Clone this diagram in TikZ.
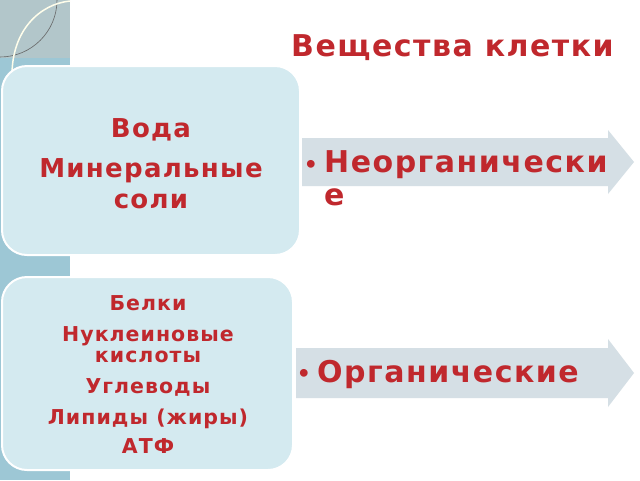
\documentclass[tikz,border=0pt]{standalone}
\usepackage{fontspec}
\setmainfont{DejaVu Sans}[LetterSpace=5]
\definecolor{cellred}{HTML}{C0282D}
\definecolor{stripblue}{HTML}{9DC7D5}
\definecolor{stripgray}{HTML}{B2C6CA}
\definecolor{boxblue}{HTML}{D4EAF0}
\definecolor{arrowgray}{HTML}{D5DFE5}
\tikzset{
	item/.style={anchor=base, text=cellred, font=\bfseries\fontsize{26}{30}\selectfont, inner sep=0pt},
	smallitem/.style={item, font=\bfseries\fontsize{20.5}{22}\selectfont\addfontfeatures{LetterSpace=5}},
	biglabel/.style={anchor=base west, text=cellred, font=\bfseries\fontsize{30}{34}\selectfont, inner sep=0pt},
	dot/.style={anchor=base, text=cellred, font=\bfseries\fontsize{22}{24}\selectfont, inner sep=0pt},
	cellbox/.style={fill=boxblue, draw=white, line width=2pt, rounded corners=25pt}
}
\begin{document}
\begin{tikzpicture}[x=1pt, y=-1pt]
	\useasboundingbox (0,0) rectangle (640,480);
	\fill[white] (0,0) rectangle (640,480);
	
	%% LEFT STRIP
	\fill[stripblue] (0,0) rectangle (70,480);
	\fill[stripgray] (0,0) rectangle (70,58);
	\draw[gray!80!black, line width=0.6pt] (57,0) arc (0:90:57);
	\draw[yellow!8!white, line width=1.5pt] (12,75) .. controls (12,30) and (40,4) .. (70,1);
	
	% Title
	\node[biglabel] (title) at (291,56) {Вещества клетки};
	
	%% ARROWS
	% Inorganic
	\fill[arrowgray] (302,138) -- (608,138) -- (608,130) -- (634,162) -- (608,194) -- (608,186) -- (302,186) -- cycle;
	% Organic
	\fill[arrowgray] (296,348) -- (608,348) -- (608,339) -- (634,373) -- (608,407) -- (608,398) -- (296,398) -- cycle;
	
	%% BOXES
	\draw[cellbox] (2,66) rectangle (300,255);
	\draw[cellbox] (2,277) rectangle (293,470);
	
	% Inorganic items
	\node[item] (water) at (151,137) {Вода};
	\node[item] (salts) at (151,177) {Минеральные};
	\node[item] (salts2) at (151,208) {соли};
	
	% Organic items
	\node[smallitem] (proteins) at (148,310) {Белки};
	\node[smallitem] (nucleic) at (148,341) {Нуклеиновые};
	\node[smallitem] (nucleic2) at (148,362) {кислоты};
	\node[smallitem] (carbs) at (148,393) {Углеводы};
	\node[smallitem] (lipids) at (148,424) {Липиды (жиры)};
	\node[smallitem] (atp) at (148,453) {АТФ};
	
	% Arrow labels
	\node[dot] (dotA) at (311,172) {•};
	\node[biglabel] (inorganic) at (324,172) {Неорганически};
	\node[biglabel] (inorganic2) at (324,205) {е};
	\node[dot] (dotB) at (304,381) {•};
	\node[biglabel] (organic) at (317,382) {Органические};
	
\end{tikzpicture}
\end{document}
